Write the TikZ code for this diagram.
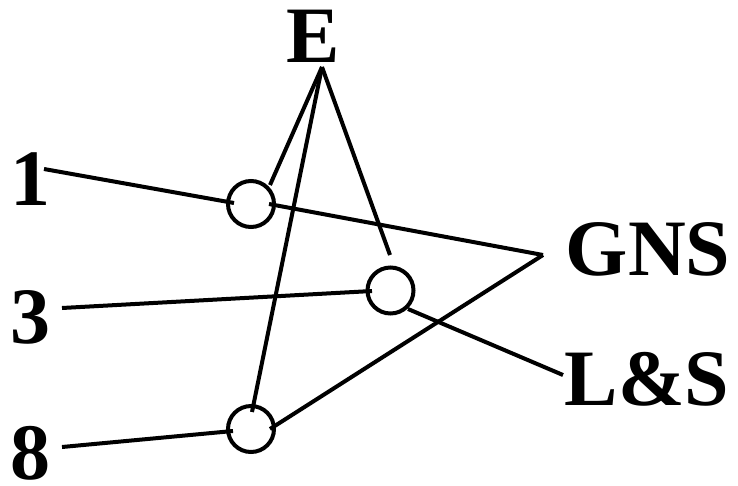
\documentclass[tikz,border=0pt]{standalone}
\usepackage{fontspec}
\setmainfont{Liberation Serif}
\usetikzlibrary{calc}
\begin{document}
\begin{tikzpicture}[x=1pt,y=-1pt,
  lbl/.style={font=\bfseries\fontsize{80}{80}\selectfont, anchor=base, inner sep=0pt},
  junc/.style={circle, draw, line width=4pt, minimum size=46pt, inner sep=0pt},
  wire/.style={line width=4pt}]
\useasboundingbox (0,0) rectangle (738,485);

% labels
\node[lbl] (E)   at (313,62)  {E};
\node[lbl] (one) at (30,205)  {1};
\node[lbl] (three) at (30,343) {3};
\node[lbl] (eight) at (30,479) {8};
\node[lbl] (gns) at (648,275) {GNS};
\node[lbl] (ls)  at (647,405) {L\&S};

% where the wires meet the labels
\coordinate (Etip)    at (322,67);
\coordinate (oneTip)  at (44,169);
\coordinate (threeTip) at (62,308);
\coordinate (eightTip) at (62,447);
\coordinate (gnsTip)  at (543,255);
\coordinate (lsTip)   at (563,375);

% junction circles
\node[junc] (c1) at (251,204) {};
\node[junc] (c3) at (390.5,290.5) {};
\node[junc] (c8) at (251,429) {};

% wires
\draw[wire] (oneTip) -- ($(c1)+(-17,-1)$);
\draw[wire] ($(c1)+(18,0)$) -- (gnsTip);
\draw[wire] ($(c1)+(19,-19)$) -- (Etip);

\draw[wire] (threeTip) -- ($(c3)+(-18.5,0.5)$);
\draw[wire] ($(c3)+(17.5,18.5)$) -- (lsTip);
\draw[wire] (Etip) -- ($(c3)+(-0.5,-35.5)$);

\draw[wire] (eightTip) -- ($(c8)+(-18,2)$);
\draw[wire] ($(c8)+(19,0)$) -- (gnsTip);
\draw[wire] (Etip) -- ($(c8)+(1,-17)$);
\end{tikzpicture}
\end{document}
